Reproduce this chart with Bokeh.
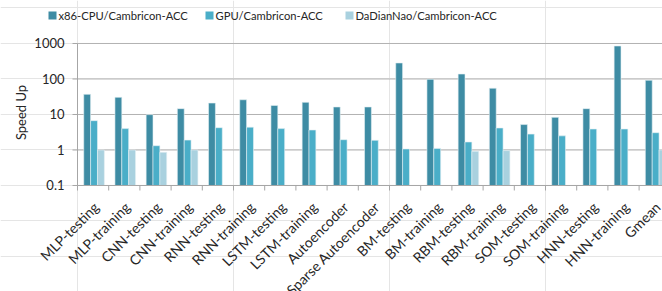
import math
from bokeh.plotting import figure
from bokeh.models import ColumnDataSource, Range1d
from bokeh.core.properties import value
from bokeh.embed import file_html
from bokeh.resources import INLINE

categories = ["MLP-testing", "MLP-training", "CNN-testing", "CNN-training", "RNN-testing",
              "RNN-training", "LSTM-testing", "LSTM-training", "Autoencoder", "Sparse Autoencoder",
              "BM-testing", "BM-training", "RBM-testing", "RBM-training", "SOM-testing",
              "SOM-training", "HNN-testing", "HNN-training", "Gmean"]
x86_cpu = [37, 30.5, 9.9, 14.6, 21, 26, 18, 22, 16.3, 16.3,
           283, 98, 138, 55, 5.2, 8.3, 14.6, 850, 92]
gpu = [6.7, 4.0, 1.32, 1.9, 4.25, 4.4, 4.0, 3.66, 1.95, 1.87,
       1.07, 1.11, 1.68, 4.17, 2.8, 2.5, 3.9, 3.9, 3.07]
dadiannao = [1.0, 1.0, 0.86, 1.0, None, None, None, None, None, None,
             None, None, 0.92, 0.96, None, None, None, None, 1.0]
series_names = ["x86-CPU/Cambricon-ACC", "GPU/Cambricon-ACC", "DaDianNao/Cambricon-ACC"]
colors = ["#3e8ca4", "#4aaec8", "#a9d1df"]
y_ticks = [0.1, 1, 10, 100, 1000]
y_tick_labels = ["0.1", "1", "10", "100", "1000"]
y_title = "Speed Up"

FONT = "Lato"
TXT = "#262626"
AXC = "#a6a6a6"
W, H = 662, 291
X0, X1 = -2.468, 18.75
LY0, LY1 = -3.986, 4.211
n = len(categories)
centers = [i + 0.5 for i in range(n)]
bounds = [float(i) for i in range(n + 1)]


def px_x(px):
    return X0 + px * (X1 - X0) / W


def px_y(py):
    return 10 ** (LY1 - py * (LY1 - LY0) / H)


p = figure(width=W, height=H, output_backend="svg", toolbar_location=None,
           x_axis_location=None, y_axis_location=None, y_axis_type="log",
           x_range=Range1d(X0, X1), y_range=Range1d(10 ** LY0, 10 ** LY1),
           min_border=0)
p.title_location = None
p.outline_line_color = None
p.background_fill_color = "white"
p.border_fill_color = "white"

# horizontal gridlines at the y ticks
p.segment(x0=[0] * len(y_ticks), y0=y_ticks, x1=[n] * len(y_ticks), y1=y_ticks,
          line_color="#b3b3b3", line_width=1)

# bars
offsets = [0.31, 0.53, 0.75]
for vals, off, col in zip([x86_cpu, gpu, dadiannao], offsets, colors):
    xs, tops = [], []
    for i, v in enumerate(vals):
        if v is not None:
            xs.append(i + off)
            tops.append(v)
    src = ColumnDataSource(dict(x=xs, top=tops))
    p.vbar(x="x", top="top", bottom=y_ticks[0], width=0.22, source=src,
           fill_color=col, line_color="#e4f0f4", line_width=0.6)

# axis lines
p.segment(x0=[0], y0=[y_ticks[0]], x1=[0], y1=[y_ticks[-1]], line_color=AXC, line_width=1)
p.segment(x0=[0], y0=[y_ticks[0]], x1=[n], y1=[y_ticks[0]], line_color=AXC, line_width=1)
# tick marks
p.ray(x=[0] * len(y_ticks), y=y_ticks, length=5, length_units="screen", angle=math.pi,
      line_color=AXC, line_width=1)
p.ray(x=bounds, y=[y_ticks[0]] * len(bounds), length=5, length_units="screen",
      angle=-math.pi / 2, line_color=AXC, line_width=1)

# y tick labels
p.text(x=[0] * len(y_ticks), y=y_ticks, text=y_tick_labels, x_offset=-13,
       text_align="right", text_baseline="middle", text_font=value(FONT),
       text_font_size="13px", text_color=TXT)
# y title
p.text(x=[0], y=[y_ticks[2]], text=[y_title], x_offset=-57, y_offset=-2, angle=math.pi / 2,
       text_align="center", text_baseline="middle", text_font=value(FONT),
       text_font_size="13px", text_color=TXT)
# x category labels
p.text(x=centers, y=[y_ticks[0]] * n, text=categories, angle=math.pi / 4,
       x_offset=3, y_offset=19, text_align="right", text_baseline="middle",
       text_font=value(FONT), text_font_size="14px", text_color=TXT)

# legend row at the top (square swatch + label per series)
sw_px = [52, 209, 349]
leg_py = 15
p.rect(x=[px_x(v) for v in sw_px], y=[px_y(leg_py)] * 3, width=8, height=8,
       width_units="screen", height_units="screen", fill_color=colors, line_color=None)
p.text(x=[px_x(v + 6) for v in sw_px], y=[px_y(leg_py)] * 3, text=series_names,
       text_align="left", text_baseline="middle", text_font=value(FONT),
       text_font_size="11.2px", text_color=TXT)

open("out.html", "w").write(file_html(p, INLINE))
